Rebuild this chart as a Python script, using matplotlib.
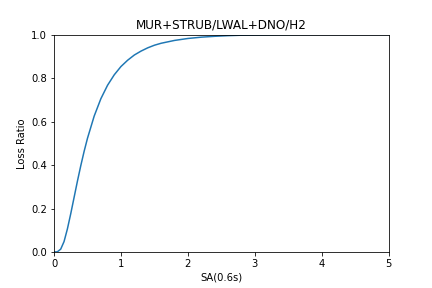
import matplotlib
matplotlib.use("Agg")
import matplotlib.pyplot as plt

# intensity measure levels and loss ratios
sa = [0.0, 0.05, 0.1, 0.15, 0.2, 0.25, 0.3, 0.35, 0.4, 0.45, 0.5,
      0.6, 0.7, 0.8, 0.9, 1.0, 1.1, 1.2, 1.3, 1.4, 1.5, 1.6, 1.8,
      2.0, 2.2, 2.4, 2.6, 2.8, 3.0, 3.5, 4.0, 4.5, 5.0]
loss_ratio = [0.0, 0.001, 0.013, 0.048, 0.106, 0.176, 0.251, 0.326, 0.397, 0.463, 0.523,
              0.625, 0.705, 0.767, 0.815, 0.853, 0.882, 0.906, 0.924, 0.939, 0.951, 0.96, 0.973,
              0.982, 0.988, 0.992, 0.995, 0.997, 0.998, 0.9995, 1.0, 1.0, 1.0]

fig = plt.figure(figsize=(6, 4), dpi=72)
fig.subplots_adjust(left=0.125, right=0.9, top=0.88, bottom=0.125)
ax = fig.add_subplot(111)
ax.plot(sa, loss_ratio)
ax.set_xlim(0, 5)
ax.set_ylim(0, 1)
ax.set_xlabel("SA(0.6s)")
ax.set_ylabel("Loss Ratio")
ax.set_title("MUR+STRUB/LWAL+DNO/H2")

plt.savefig("out.png", dpi=72)
plt.close()
